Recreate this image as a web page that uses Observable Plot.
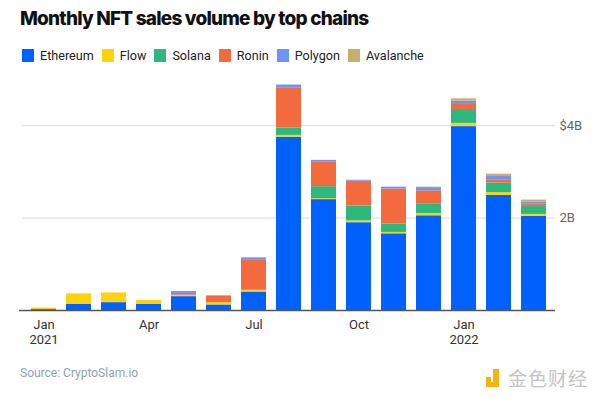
<!DOCTYPE html>
<html>
<head>
<meta charset="utf-8">
<script src="https://cdn.jsdelivr.net/npm/d3@7"></script>
<script src="https://cdn.jsdelivr.net/npm/@observablehq/plot@0.6"></script>
<style>
  html, body { margin: 0; padding: 0; background: #fff; }
  body { width: 600px; height: 399px; overflow: hidden; position: relative; font-family: "Roboto", "Inter", sans-serif; }
  #title { position: absolute; left: 20px; top: 7px; font-family: "Inter", sans-serif; font-weight: 800; font-size: 19px; color: #111; letter-spacing: -0.8px; white-space: nowrap; }
  #legend { position: absolute; left: 22px; top: 48px; display: flex; font-size: 12.6px; color: #222; white-space: nowrap; }
  .item { display: flex; align-items: center; margin-right: 8px; }
  .sw { width: 12px; height: 13px; margin-right: 6px; }
  #chart { position: absolute; left: 0; top: 72px; }
  #source { position: absolute; left: 20px; top: 366px; font-size: 12px; color: #8ea0b5; }
  #wm { position: absolute; left: 486px; top: 364px; display: flex; align-items: center; font-family: "Noto Sans CJK SC", sans-serif; font-size: 19px; color: #c4c4c4; letter-spacing: 1px; }
  #wm .logo { width: 14px; height: 18px; margin-right: 8px; position: relative; }
</style>
</head>
<body>
<div id="title">Monthly NFT sales volume by top chains</div>
<div id="legend"></div>
<div id="chart"></div>
<div id="source">Source: CryptoSlam.io</div>
<div id="wm"><div class="logo"><div style="position:absolute;left:0;top:8px;width:5px;height:5px;background:#f5b30f"></div><div style="position:absolute;left:7px;top:0;width:6px;height:18px;background:#f5b30f"></div><div style="position:absolute;left:0;top:13px;width:13px;height:5px;background:#f5b30f"></div></div>金色财经</div>
<script>
const months = ["2021-01","2021-02","2021-03","2021-04","2021-05","2021-06","2021-07","2021-08","2021-09","2021-10","2021-11","2021-12","2022-01","2022-02","2022-03"];
const seriesNames = ["Ethereum","Flow","Solana","Ronin","Polygon","Avalanche"];
const seriesColors = ["#0061fe","#ffd20a","#2db87d","#f26a3d","#6e93f7","#c8ae6b"];
// values in billions USD
const ethereum  = [0.02,0.13,0.17,0.13,0.30,0.12,0.40,3.75,2.40,1.90,1.66,2.05,3.98,2.49,2.04];
const flow      = [0.03,0.23,0.21,0.09,0.03,0.05,0.03,0.04,0.02,0.04,0.03,0.05,0.07,0.06,0.04];
const solana    = [0,0,0,0,0,0,0.01,0.16,0.26,0.32,0.18,0.20,0.30,0.21,0.19];
const ronin     = [0,0,0,0,0.04,0.14,0.66,0.86,0.54,0.54,0.76,0.29,0.11,0.07,0.03];
const polygon   = [0,0,0,0,0.04,0.01,0.04,0.07,0.03,0.02,0.04,0.07,0.07,0.07,0.05];
const avalanche = [0,0,0,0,0,0,0,0,0,0,0,0.01,0.05,0.05,0.04];
const tickMonths = ["2021-01","2021-04","2021-07","2021-10","2022-01"];
const tickLabels = ["Jan\n2021","Apr","Jul","Oct","Jan\n2022"];
const yTicks = [2, 4];
const yTickLabels = ["2B", "$4B"];

const seriesValues = [ethereum, flow, solana, ronin, polygon, avalanche];
const data = [];
seriesNames.forEach((s, i) => months.forEach((m, j) => data.push({month: m, chain: s, value: seriesValues[i][j]})));

// legend
const legend = document.getElementById("legend");
seriesNames.forEach((s, i) => {
  const it = document.createElement("div"); it.className = "item";
  const sw = document.createElement("div"); sw.className = "sw"; sw.style.background = seriesColors[i];
  const t = document.createElement("span"); t.textContent = s;
  it.appendChild(sw); it.appendChild(t); legend.appendChild(it);
});

const chart = Plot.plot({
  width: 600,
  height: 300,
  marginLeft: 22,
  marginRight: 45,
  marginTop: 7,
  marginBottom: 62,
  style: {fontFamily: "Roboto, sans-serif", fontSize: "13px", background: "transparent"},
  x: {domain: months, paddingInner: 0.3, paddingOuter: 0.15, label: null},
  y: {domain: [0, 5], label: null},
  color: {domain: seriesNames, range: seriesColors},
  marks: [
    Plot.gridY(yTicks, {stroke: "#d9d9d9", strokeOpacity: 1, strokeWidth: 1}),
    Plot.barY(data, {x: "month", y: "value", fill: "chain", order: seriesNames}),
    Plot.ruleY([0], {stroke: "#555", strokeWidth: 1.5, insetLeft: -3}),
    Plot.axisX({ticks: tickMonths, tickFormat: d => tickLabels[tickMonths.indexOf(d)], tickSize: 0, tickPadding: 8, fill: "#333", lineHeight: 1.15, label: null}),
    Plot.axisY({anchor: "right", ticks: yTicks, tickFormat: d => yTickLabels[yTicks.indexOf(d)], tickSize: 0, tickPadding: 4, textAnchor: "start", fill: "#666", label: null})
  ]
});
document.getElementById("chart").appendChild(chart);
</script>
</body>
</html>
